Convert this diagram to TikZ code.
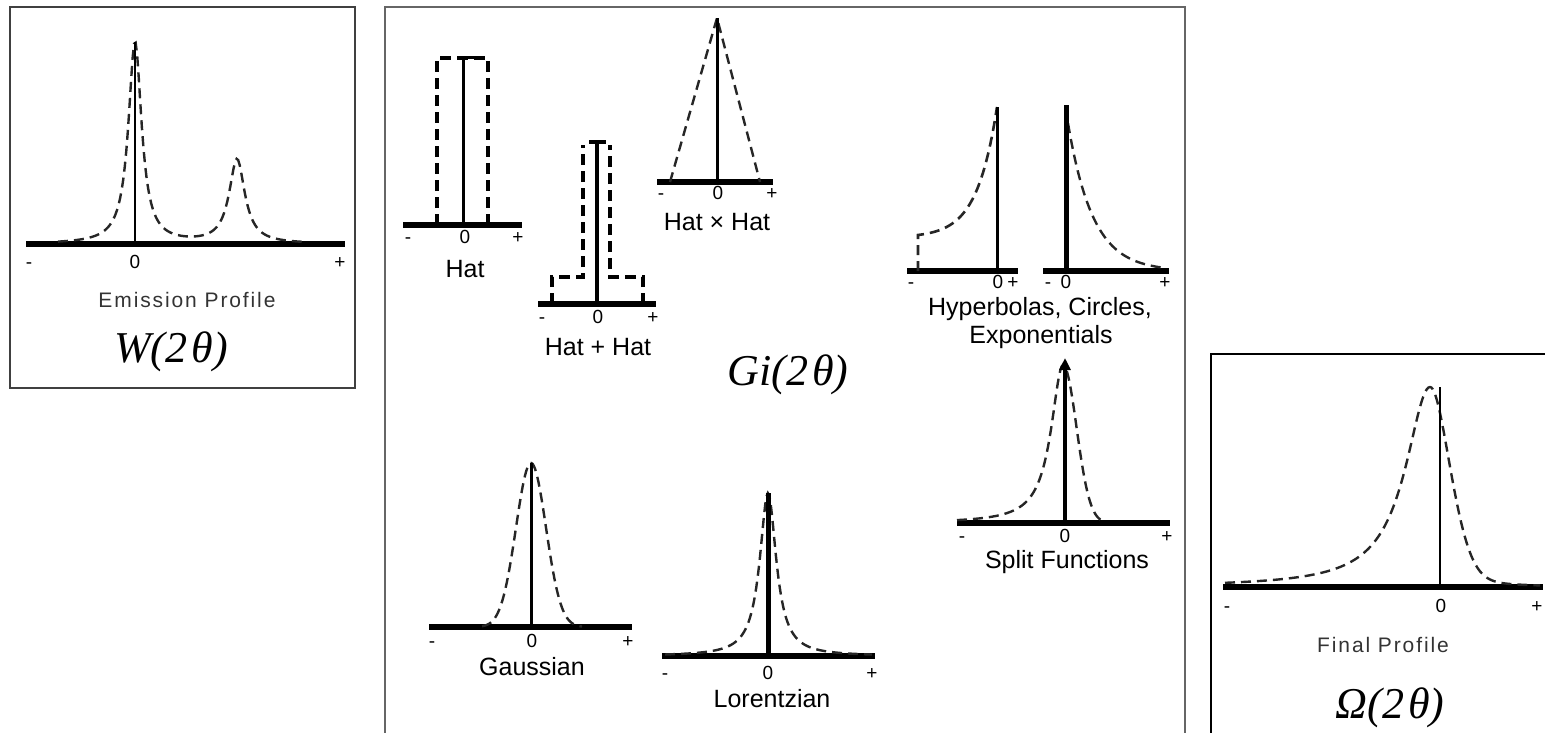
\documentclass[tikz,border=0pt]{standalone}
\usepackage{fontspec}
\setmainfont{Liberation Sans}
\newfontfamily\spacedfont[LetterSpace=9]{Liberation Sans}
\newfontfamily\seriffont{Liberation Serif}
\usetikzlibrary{arrows.meta}
\tikzset{
  frame/.style={line width=2pt, draw=black!75},
  axisline/.style={line width=5.5pt},
  profile/.style={line width=2.4pt, dash pattern=on 10pt off 6pt, draw=black!85},
  hatdash/.style={line width=4.5pt, dash pattern=on 11pt off 6pt},
  tick/.style={anchor=base, inner sep=0pt, font=\fontsize{19}{19}\selectfont},
  lab/.style={anchor=base, inner sep=0pt, font=\fontsize{25}{25}\selectfont},
  bigspaced/.style={anchor=base, inner sep=0pt, font=\spacedfont\fontsize{21}{21}\selectfont, text=black!80},
  func/.style={anchor=base, inner sep=0pt, font=\seriffont\itshape\fontsize{44}{44}\selectfont},
}
\begin{document}
\begin{tikzpicture}[x=1pt,y=-1pt]
\useasboundingbox (0,0) rectangle (1545,733);
% frames
\draw[frame] (10,7) rectangle (355,388);
\draw[frame, draw=black!60] (385,734) -- (385,7) -- (1185,7) -- (1185,734);
\draw[frame, draw=black] (1546,354) -- (1211,354) -- (1211,734);

% Emission profile
\draw[axisline] (26,244) -- (345,244);
\draw[profile] plot[domain=58:305, samples=160] (\x, {244 - 202/(1+((\x-135)/8)*((\x-135)/8)) - 84/(1+((\x-237)/9.5)*((\x-237)/9.5))});
\draw[line width=2.5pt] (135,244) -- (135,42);
\node[tick] (em-m) at (29,268) {-};
\node[tick] (em-0) at (135,268) {0};
\node[tick] (em-p) at (340,268) {+};
\node[bigspaced] (emis) at (187,307) {Emission Profile};
\node[func] (W) at (171,362) {W(2\kern4pt θ)};

% Hat
\draw[axisline] (403,225) -- (522,225);
\draw[hatdash] (437,225) -- (437,58) -- (488,58) -- (488,225);
\draw[line width=3pt] (463,225) -- (463,58) -- (477,58);
\node[tick] (h-m) at (408,243) {-};
\node[tick] (h-0) at (465,243) {0};
\node[tick] (h-p) at (518,243) {+};
\node[lab] (hat) at (465,277) {Hat};

% Hat + Hat
\draw[axisline] (538,304) -- (656,304);
\draw[hatdash] (552,304) -- (552,277) -- (583,277) -- (583,145);
\draw[hatdash] (643,304) -- (643,277) -- (610,277) -- (610,145);
\draw[line width=3.5pt] (597,304) -- (597,142);
\draw[line width=3.5pt] (589,142) -- (606,142);
\node[tick] (hp-m) at (542,323) {-};
\node[tick] (hp-0) at (598,323) {0};
\node[tick] (hp-p) at (653,323) {+};
\node[lab] (hatplus) at (598,355) {Hat + Hat};

% Hat x Hat
\draw[axisline] (657,182) -- (773,182);
\draw[profile] (670,182) -- (717,18) -- (760,182);
\draw[line width=3pt] (717,182) -- (717,18);
\node[tick] (ht-m) at (661,200) {-};
\node[tick] (ht-0) at (718,200) {0};
\node[tick] (ht-p) at (772,200) {+};
\node[lab] (hattimes) at (717,230) {Hat × Hat};

% Hyperbolas left
\draw[axisline] (907,271) -- (1018,271);
\draw[profile, line width=2.6pt] (918,271) -- (918,235) -- plot[domain=918:997, samples=60] (\x, {271-33.5-130.5*exp((\x-997)/20)});
\draw[line width=3pt] (997,271) -- (997,107);
\node[tick] (hl-m) at (911,288) {-};
\node[tick] (hl-0) at (998,288) {0};
\node[tick] (hl-p) at (1013,288) {+};
% Hyperbolas right
\draw[axisline] (1043,271) -- (1169,271);
\draw[profile] plot[domain=1068:1165, samples=60] (\x, {271-160*exp(-(\x-1066)/25)});
\draw[line width=5pt] (1066,271) -- (1066,105);
\node[tick] (hr-m) at (1048,288) {-};
\node[tick] (hr-0) at (1066,288) {0};
\node[tick] (hr-p) at (1165,288) {+};
\node[lab] (hyp) at (1040,315) {Hyperbolas, Circles,};
\node[lab] (expo) at (1041,343) {Exponentials};

% Split functions
\draw[axisline] (957,523) -- (1170,523);
\draw[profile] plot[domain=957:1063, samples=80] (\x, {523-158/(1+((\x-1063)/14.5)*((\x-1063)/14.5))})
  -- plot[domain=1063:1105, samples=40] (\x, {523-158*exp(-((\x-1063)/19.1)*((\x-1063)/19.1))});
\draw[line width=4pt, -{Triangle[length=12pt,width=11pt]}] (1065,523) -- (1065,358);
\node[tick] (sp-m) at (962,542) {-};
\node[tick] (sp-0) at (1065,542) {0};
\node[tick] (sp-p) at (1167,542) {+};
\node[lab] (split) at (1067,568) {Split Functions};

% Gaussian
\draw[axisline] (429,627) -- (632,627);
\draw[profile] plot[domain=482:582, samples=80] (\x, {627-164*exp(-((\x-531)/21.2)*((\x-531)/21.2))});
\draw[line width=3pt] (531,627) -- (531,463);
\node[tick] (g-m) at (432,647) {-};
\node[tick] (g-0) at (532,647) {0};
\node[tick] (g-p) at (628,647) {+};
\node[lab] (gauss) at (532,675) {Gaussian};

% Lorentzian
\draw[axisline] (662,656) -- (875,656);
\draw[profile] plot[domain=665:872, samples=160] (\x, {656-163/(1+((\x-768)/10)*((\x-768)/10))});
\draw[line width=5pt] (768,656) -- (768,493);
\node[tick] (l-m) at (665,679) {-};
\node[tick] (l-0) at (768,679) {0};
\node[tick] (l-p) at (872,679) {+};
\node[lab] (lor) at (772,707) {Lorentzian};

% Gi label
\node[func] (Gi) at (788,385) {Gi(2\kern4pt θ)};

% Final profile
\draw[axisline] (1223,587) -- (1543,587);
\draw[profile] plot[domain=1225:1430, samples=120] (\x, {587-200/(1+((\x-1430)/30)*((\x-1430)/30))})
  -- plot[domain=1430:1540, samples=80] (\x, {587-200*(0.75*exp(-((\x-1430)/29.7)*((\x-1430)/29.7))+0.25/(1+((\x-1430)/20)*((\x-1430)/20)))});
\draw[line width=2.5pt] (1440,587) -- (1440,387);
\node[tick] (f-m) at (1227,612) {-};
\node[tick] (f-0) at (1441,612) {0};
\node[tick] (f-p) at (1537,612) {+};
\node[bigspaced] (final) at (1383,652) {Final Profile};
\node[func] (Om) at (1390,718) {Ω(2\kern4pt θ)};
\end{tikzpicture}
\end{document}
